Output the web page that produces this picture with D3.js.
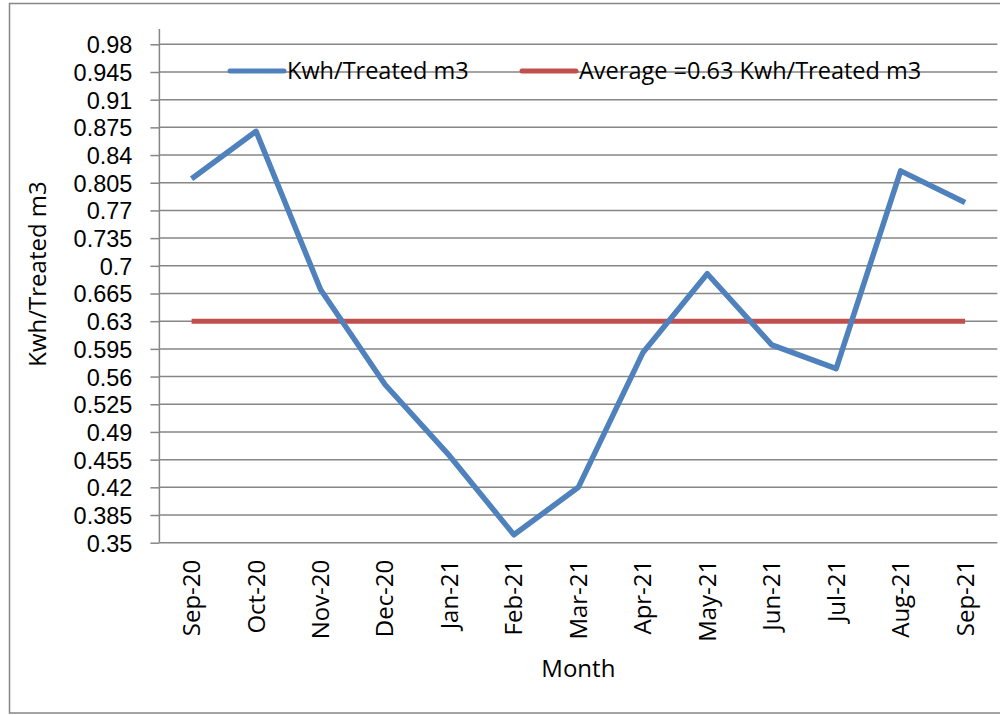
<!DOCTYPE html>
<meta charset="utf-8">
<head>
<style>
body { margin: 0; background: #fff; }
svg { display: block; font-family: "Open Sans", sans-serif; }
.grid line { stroke: #868686; stroke-width: 1.5; }
.axis path, .axis line { stroke: #868686; stroke-width: 1.5; }
.axis text { fill: #000; }
</style>
</head>
<body>
<script src="https://cdn.jsdelivr.net/npm/d3@7"></script>
<svg id="chart" width="1000" height="715"></svg>
<script>

var months = ["Sep-20", "Oct-20", "Nov-20", "Dec-20", "Jan-21", "Feb-21", "Mar-21",
              "Apr-21", "May-21", "Jun-21", "Jul-21", "Aug-21", "Sep-21"];
var kwh = [0.81, 0.87, 0.67, 0.55, 0.46, 0.36, 0.42, 0.59, 0.69, 0.60, 0.57, 0.82, 0.78];
var average = [0.63, 0.63, 0.63, 0.63, 0.63, 0.63, 0.63, 0.63, 0.63, 0.63, 0.63, 0.63, 0.63];
var yTicks = [0.35, 0.385, 0.42, 0.455, 0.49, 0.525, 0.56, 0.595, 0.63, 0.665, 0.7,
              0.735, 0.77, 0.805, 0.84, 0.875, 0.91, 0.945, 0.98];
var seriesNames = ["Kwh/Treated m3", "Average =0.63 Kwh/Treated m3"];

var svg = d3.select("#chart"),
    plot = {left: 159.4, right: 997.3, top: 44.3, bottom: 542.7};

// outer chart border
svg.append("rect")
    .attr("x", 9.5).attr("y", 3.5)
    .attr("width", 1000).attr("height", 709.5)
    .attr("fill", "none").attr("stroke", "#868686").attr("stroke-width", 1.5);

var x = d3.scalePoint().domain(months).range([plot.left, plot.right]).padding(0.5);
var y = d3.scaleLinear().domain([0.35, 0.98]).range([plot.bottom, plot.top]);

// gridlines
svg.append("g").attr("class", "grid")
  .selectAll("line")
  .data(yTicks)
  .enter().append("line")
    .attr("x1", plot.left).attr("x2", plot.right)
    .attr("y1", function(d) { return y(d); })
    .attr("y2", function(d) { return y(d); });

// y axis
var yAxis = svg.append("g")
    .attr("class", "axis")
    .attr("transform", "translate(" + plot.left + ",0)")
    .call(d3.axisLeft(y).tickValues(yTicks).tickSize(9).tickPadding(18)
      .tickFormat(function(d) { return String(+d.toFixed(3)); }));
yAxis.select(".domain").remove();
yAxis.selectAll("text").style("font-size", "23.5px").attr("dy", "0.36em");
svg.append("line")
    .attr("x1", plot.left).attr("x2", plot.left)
    .attr("y1", 29).attr("y2", plot.bottom)
    .attr("stroke", "#868686").attr("stroke-width", 1.5);

// x labels
svg.append("g")
  .selectAll("text")
  .data(months)
  .enter().append("text")
    .attr("transform", function(d) { return "translate(" + (x(d) + 8.5) + "," + (plot.bottom + 17) + ") rotate(-90)"; })
    .attr("text-anchor", "end")
    .style("font-size", "24px")
    .text(function(d) { return d; });

// axis titles
svg.append("text")
    .attr("transform", "translate(46,274) rotate(-90)")
    .attr("text-anchor", "middle")
    .style("font-size", "24px")
    .text("Kwh/Treated m3");

svg.append("text")
    .attr("x", (plot.left + plot.right) / 2).attr("y", 677)
    .attr("text-anchor", "middle")
    .style("font-size", "24px")
    .text("Month");

var line = d3.line()
    .x(function(d, i) { return x(months[i]); })
    .y(function(d) { return y(d); });

svg.append("path")
    .datum(average)
    .attr("fill", "none").attr("stroke", "#C0504D").attr("stroke-width", 5)
    .attr("d", line);

svg.append("path")
    .datum(kwh)
    .attr("fill", "none").attr("stroke", "#4F81BD").attr("stroke-width", 5.5)
    .attr("stroke-linejoin", "round")
    .attr("d", line);

// legend
var legendX = [230, 522], legendColors = ["#4F81BD", "#C0504D"];
var legend = svg.selectAll(".legend")
    .data(seriesNames)
    .enter().append("g")
      .attr("class", "legend")
      .attr("transform", function(d, i) { return "translate(" + legendX[i] + ",71)"; });

legend.append("line")
    .attr("x1", 0).attr("x2", 54)
    .attr("stroke", function(d, i) { return legendColors[i]; })
    .attr("stroke-width", 5).attr("stroke-linecap", "round");

legend.append("text")
    .attr("x", 57).attr("dy", "0.35em")
    .style("font-size", "23.5px")
    .text(function(d) { return d; });

</script>
</body>
</html>
